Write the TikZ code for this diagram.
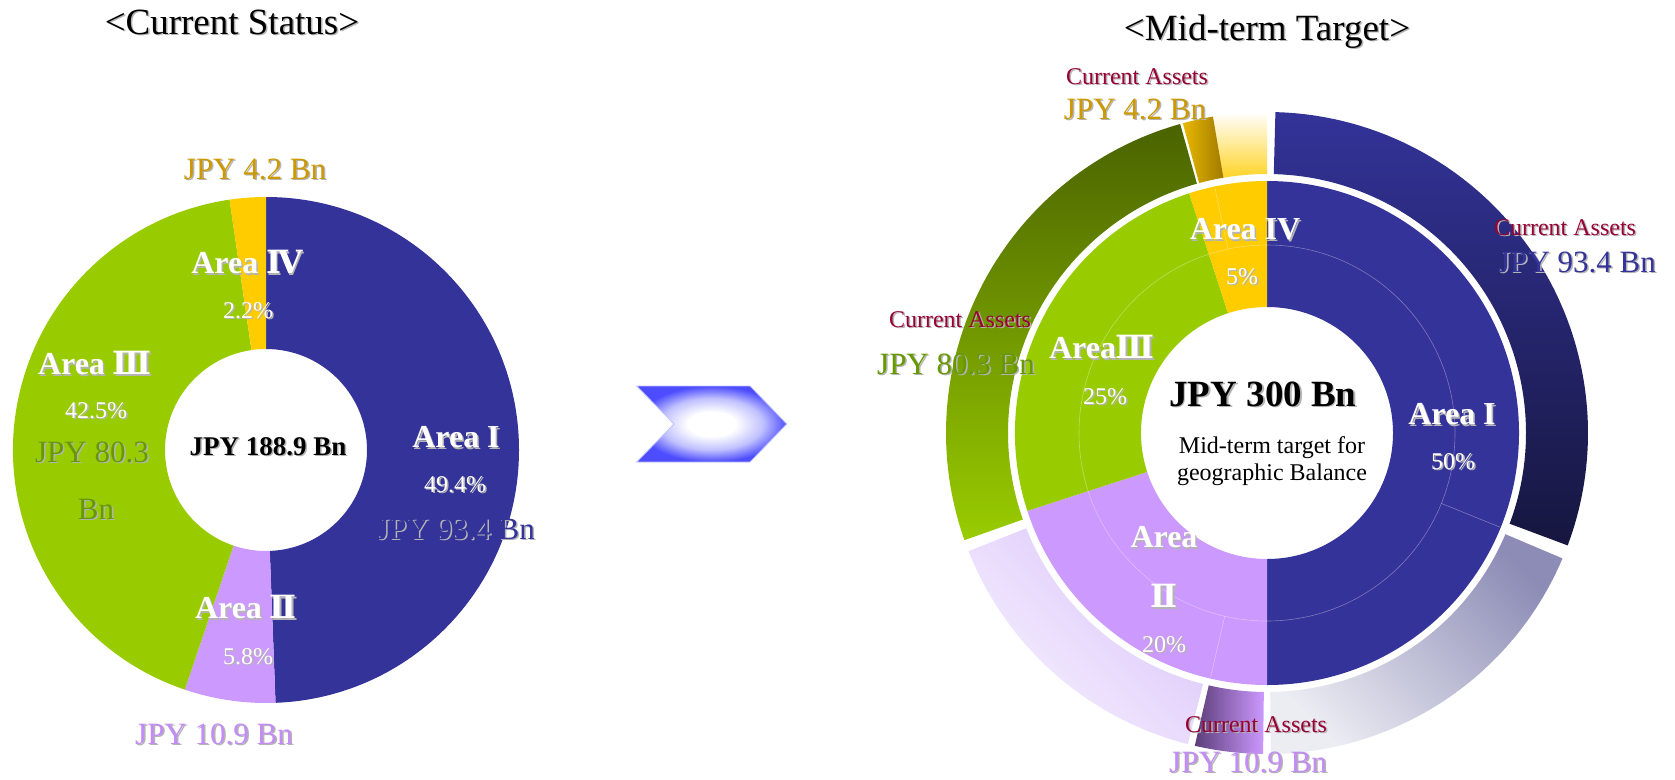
\documentclass[tikz,border=0pt]{standalone}
\usepackage{fontspec}
\setmainfont{Liberation Serif}
\newfontfamily\numfont{DejaVu Serif}
\usetikzlibrary{positioning}

\definecolor{areaone}{HTML}{333399}
\definecolor{areatwo}{HTML}{CC99FF}
\definecolor{areathree}{HTML}{99CC00}
\definecolor{areafour}{HTML}{FFCC00}
\definecolor{navydark}{HTML}{16163F}
\definecolor{greydark}{HTML}{8C8CB6}
\definecolor{greylight}{HTML}{ECECF3}
\definecolor{lavdark}{HTML}{5C3D7A}
\definecolor{lavfaded}{HTML}{DAC5F9}
\definecolor{lavlight}{HTML}{F7F1FF}
\definecolor{olivedark}{HTML}{4A6300}
\definecolor{goldlight}{HTML}{E8B800}
\definecolor{golddark}{HTML}{A07A00}
\definecolor{goldtext}{HTML}{CC9900}
\definecolor{olivetext}{HTML}{669900}
\definecolor{lavtext}{HTML}{C48CF7}
\definecolor{assetred}{HTML}{990033}
\definecolor{arrowblue}{HTML}{4D4DFF}
\definecolor{shadowgray}{HTML}{B4B4B4}

\pgfdeclareradialshading{chevglow}{\pgfpoint{0bp}{0bp}}{color(0bp)=(white); color(8bp)=(white); color(17bp)=(arrowblue!35!white); color(25bp)=(arrowblue); color(100bp)=(arrowblue)}

% text with a soft drop shadow
\newcommand{\shd}[2]{\rlap{\hspace{1.5pt}\raisebox{-1.5pt}{\textcolor{shadowgray}{#2}}}\textcolor{#1}{#2}}
\newcommand{\rn}[1]{{\numfont #1}}
% ring segment: start angle, end angle, outer radius, inner radius
\newcommand{\annulus}[4]{(#1:#3pt) arc[start angle=#1, end angle=#2, radius=#3pt] -- (#2:#4pt) arc[start angle=#2, end angle=#1, radius=#4pt] -- cycle}

\begin{document}
\begin{tikzpicture}[
	x=1pt, y=1pt,
	title/.style={font=\fontsize{37}{37}\selectfont, inner sep=0pt},
	amount/.style={font=\fontsize{31}{31}\selectfont, inner sep=0pt},
	arealbl/.style={font=\fontsize{32}{32}\selectfont\bfseries, inner sep=0pt},
	pct/.style={font=\fontsize{24}{24}\selectfont, inner sep=0pt},
	asset/.style={font=\fontsize{24}{24}\selectfont, inner sep=0pt},
	faint/.style={draw=white, draw opacity=0.35, line width=0.6pt},
	]
	\fill[white] (0,0) rectangle (1675,-779);
	\useasboundingbox (0,0) rectangle (1675,-779);
	
	% current status
	\begin{scope}[shift={(266,-450)}]
		\fill[areaone] \annulus{90}{-87.84}{253}{101};
		\fill[areatwo] \annulus{-87.84}{-108.72}{253}{101};
		\fill[areathree] \annulus{-108.72}{-261.72}{253}{101};
		\fill[areafour] \annulus{-261.72}{-270}{253}{101};
	\end{scope}
	
	% mid-term target
	\begin{scope}[shift={(1267,-433)}]
		\fill[areaone] \annulus{90}{-90}{252}{126};
		\fill[areatwo] \annulus{-90}{-162}{252}{126};
		\fill[areathree] \annulus{-162}{-252}{252}{126};
		\fill[areafour] \annulus{-252}{-270}{252}{126};
		\draw[faint] (0,0) circle[radius=188pt];
		\draw[faint] (-22:188pt) -- (-22:251pt);
		\draw[faint] (-103:188pt) -- (-103:251pt);
		\draw[faint] (102:188pt) -- (102:251pt);
		
		\shade[top color=areaone, bottom color=navydark] \annulus{88.5}{-20.5}{321}{259};
		\shade[top color=greydark, bottom color=greylight, shading angle=-45] \annulus{-23}{-89.3}{321}{259};
		\shade[left color=lavdark, right color=areatwo] \annulus{-90.7}{-103}{321}{259};
		\shade[top color=lavfaded, bottom color=lavlight, shading angle=-45] \annulus{-104.3}{-158.4}{321}{259};
		\shade[top color=olivedark, bottom color=areathree] \annulus{-160.5}{-254.3}{321}{259};
		\shade[top color=white, bottom color=areafour!85!white] \annulus{-260}{-270}{321}{259};
		\shade[left color=goldlight, right color=golddark] \annulus{-254.8}{-260.3}{321}{259};
	\end{scope}
	
	% arrow
	\shade[shading=chevglow, draw=arrowblue!35, line width=0.8pt]
		(636.7,-386) -- (750,-386) -- (786.7,-424) -- (750,-462) -- (636.7,-462) -- (674,-424) -- cycle;
	
	% titles
	\node[title] (curtitle) at (232,-23) {\shd{black}{<Current Status>}};
	\node[title] (tgttitle) at (1267,-32) {\shd{black}{<Mid-term Target>}};
	
	% current status labels
	\node[amount] (curfouramt) at (255,-170) {\shd{goldtext}{JPY 4.2 Bn}};
	\node[arealbl] (curfour) at (247,-263) {\shd{white}{Area \rn{Ⅳ}}};
	\node[pct] (curfourpct) at (248,-311) {\shd{white}{2.2\%}};
	\node[arealbl] (curthree) at (95,-364) {\shd{white}{Area \rn{Ⅲ}}};
	\node[pct] (curthreepct) at (96,-411) {\shd{white}{42.5\%}};
	\node[amount] (curthreeamt) at (92,-453) {\shd{olivetext}{JPY 80.3}};
	\node[amount] (curthreebn) at (96,-510) {\shd{olivetext}{Bn}};
	\node[font=\fontsize{27}{27}\selectfont\bfseries, inner sep=0pt] (curtotal) at (268,-447) {\shd{black}{JPY 188.9 Bn}};
	\node[arealbl] (curone) at (456,-438) {\shd{white}{Area I}};
	\node[pct] (curonepct) at (455,-485) {\shd{white}{49.4\%}};
	\node[amount] (curoneamt) at (456,-530) {\shd{areaone}{JPY 93.4 Bn}};
	\node[arealbl] (curtwo) at (246,-608) {\shd{white}{Area \rn{Ⅱ}}};
	\node[pct] (curtwopct) at (248,-657) {\shd{white}{5.8\%}};
	\node[amount] (curtwoamt) at (214,-735) {\shd{lavtext}{JPY 10.9 Bn}};
	
	% mid-term target labels
	\node[asset] (fourasset) at (1137,-77) {\shd{assetred}{Current Assets}};
	\node[amount] (fouramt) at (1135,-110) {\shd{goldtext}{JPY 4.2 Bn}};
	\node[asset] (oneasset) at (1565,-228) {\shd{assetred}{Current Assets}};
	\node[amount] (oneamt) at (1577,-263) {\shd{areaone}{JPY 93.4 Bn}};
	\node[asset] (threeasset) at (960,-320) {\shd{assetred}{Current Assets}};
	\node[amount] (threeamt) at (956,-365) {\shd{olivetext}{JPY 80.3 Bn}};
	\node[arealbl] (tgtfour) at (1245,-230) {\shd{white}{Area IV}};
	\node[pct] (tgtfourpct) at (1242,-277) {\shd{white}{5\%}};
	\node[arealbl] (tgtthree) at (1102,-348) {\shd{white}{Area\rn{Ⅲ}}};
	\node[pct] (tgtthreepct) at (1105,-397) {\shd{white}{25\%}};
	\node[font=\fontsize{37}{37}\selectfont\bfseries, inner sep=0pt] (tgttotal) at (1263,-395) {\shd{black}{JPY 300 Bn}};
	\node[asset, align=center, font=\fontsize{24}{27}\selectfont] (tgtnote) at (1272,-461) {Mid-term target for\\geographic Balance};
	\node[arealbl] (tgtone) at (1452,-415) {\shd{white}{Area I}};
	\node[pct] (tgtonepct) at (1453,-462) {\shd{white}{50\%}};
	\node[arealbl] (tgttwo) at (1164,-538) {\shd{white}{Area}};
	\node[arealbl] (tgttwonum) at (1164,-597) {\shd{white}{\rn{Ⅱ}}};
	\node[pct] (tgttwopct) at (1164,-645) {\shd{white}{20\%}};
	\node[asset] (twoasset) at (1256,-725) {\shd{assetred}{Current Assets}};
	\node[amount] (twoamt) at (1248,-763) {\shd{lavtext}{JPY 10.9 Bn}};
\end{tikzpicture}
\end{document}
